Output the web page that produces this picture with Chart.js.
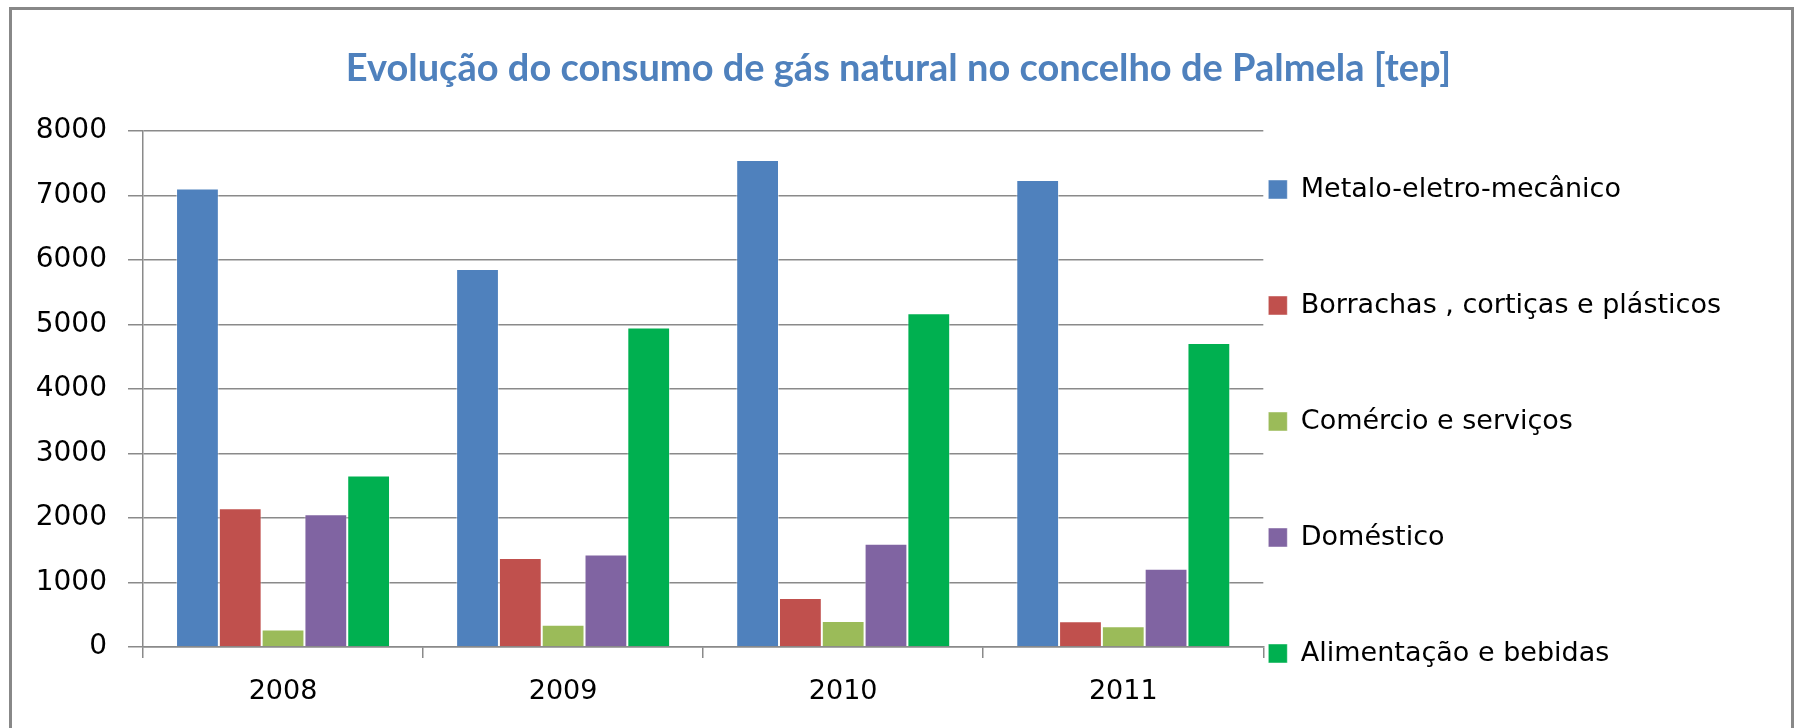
<!DOCTYPE html>
<html lang="pt">
<head>
<meta charset="utf-8">
<title>Evolução do consumo de gás natural no concelho de Palmela</title>
<script src="https://cdn.jsdelivr.net/npm/chart.js@4.4.1/dist/chart.umd.min.js"></script>
<style>
  html, body { margin: 0; padding: 0; background: #fff; }
  #wrap { position: relative; width: 1797px; height: 728px; overflow: hidden; }
  #frame { position: absolute; left: 9px; top: 7px; width: 1779px; height: 800px; border: 3px solid #888; }
  #chart { position: absolute; left: 0; top: 0; }
  /* title sits over the whole frame, not just the plot + axis box */
  #title {
    position: absolute; left: 0; top: 43px; width: 1797px;
    text-align: center; font: bold 38px/46px Lato, sans-serif; color: #4F81BD;
  }
</style>
</head>
<body>
<div id="wrap">
  <div id="frame"></div>
  <canvas id="chart" width="1797" height="728"></canvas>
  <div id="title">Evolução do consumo de gás natural no concelho de Palmela [tep]</div>
</div>
<script>
// values [tep]
const years = ["2008", "2009", "2010", "2011"];
const metalo = [7110, 5860, 7550, 7240];
const borrachas = [2150, 1380, 760, 400];
const comercio = [270, 345, 405, 320];
const domestico = [2060, 1435, 1600, 1215];
const alimentacao = [2660, 4955, 5175, 4715];
const yTicks = [0, 1000, 2000, 3000, 4000, 5000, 6000, 7000, 8000];

const gridColor = "#8a8a8a";
const textFont = "'DejaVu Sans', sans-serif";

const series = [
  { label: "Metalo-eletro-mecânico", data: metalo, color: "#4F81BD" },
  { label: "Borrachas , cortiças e plásticos", data: borrachas, color: "#C0504D" },
  { label: "Comércio e serviços", data: comercio, color: "#9BBB59" },
  { label: "Doméstico", data: domestico, color: "#8064A2" },
  { label: "Alimentação e bebidas", data: alimentacao, color: "#00B050" }
];

new Chart(document.getElementById("chart"), {
  type: "bar",
  data: {
    labels: years,
    datasets: series.map(s => ({
      label: s.label,
      data: s.data,
      backgroundColor: s.color,
      borderColor: "rgba(255,255,255,0.45)",
      borderWidth: 1,
      categoryPercentage: 0.764,
      barPercentage: 1
    }))
  },
  options: {
    responsive: false,
    animation: false,
    devicePixelRatio: 1,
    layout: { padding: { left: 10, right: 66, top: 131, bottom: 0 } },
    scales: {
      x: {
        grid: { drawOnChartArea: false, tickLength: 11, color: gridColor, lineWidth: 1.5 },
        border: { color: gridColor, width: 1.5 },
        ticks: { color: "#000", padding: 18, font: { family: textFont, size: 27 } },
        afterFit: scale => { scale.height = 81; }
      },
      y: {
        min: 0,
        max: 8000,
        afterBuildTicks: scale => { scale.ticks = yTicks.map(v => ({ value: v })); },
        grid: { tickLength: 15, color: gridColor, lineWidth: 1.5 },
        border: { color: gridColor, width: 1.5 },
        ticks: {
          color: "#000",
          padding: 21,
          font: { family: textFont, size: 28 },
          callback: v => String(v)
        },
        afterFit: scale => { scale.width = 133; }
      }
    },
    plugins: {
      title: { display: false },
      legend: {
        position: "right",
        align: "start",
        maxWidth: 468,
        // blank title only pushes the first row down
        title: { display: true, text: " ", font: { size: 10, lineHeight: 1 }, padding: { top: 30, bottom: 0 } },
        labels: {
          boxWidth: 19,
          boxHeight: 19,
          padding: 5,
          color: "#000",
          font: { family: textFont, size: 27, lineHeight: 4.111 },
          // array text makes each row as tall as the font line height (rows ~116px apart)
          generateLabels: chart => {
            const items = Chart.defaults.plugins.legend.labels.generateLabels(chart);
            return items.map((it, i) => (i < items.length - 1 ? { ...it, text: [it.text] } : it));
          }
        }
      },
      tooltip: { enabled: false }
    }
  }
});
</script>
</body>
</html>
